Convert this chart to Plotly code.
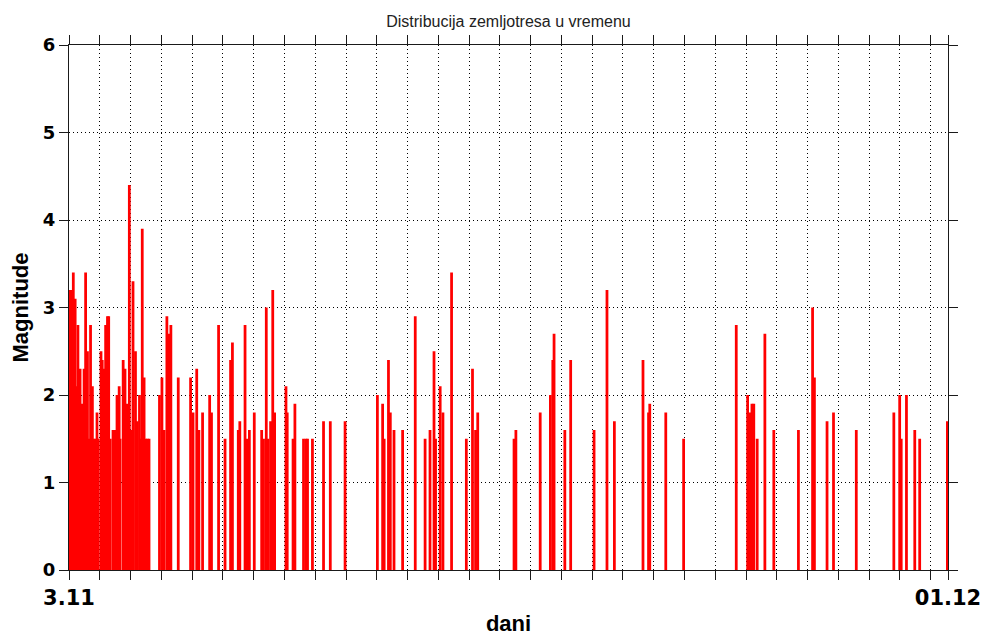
import plotly.graph_objects as go

# Event times (days after 3.11, 00:00) and magnitudes
days = [
    0.02, 0.08, 0.14, 0.20, 0.23, 0.29, 0.36, 0.42, 0.49, 0.54, 0.60, 0.65, 0.70, 0.76,
    0.81, 0.87, 0.91, 0.95, 1.04, 1.08, 1.13, 1.19, 1.25, 1.29, 1.34, 1.43, 1.49, 1.56,
    1.63, 1.66, 1.76, 1.82, 1.88, 1.91, 1.96, 2.01, 2.08, 2.16, 2.22, 2.29, 2.33, 2.38,
    2.44, 2.49, 2.55, 2.60, 2.94, 3.02, 3.09, 3.18, 3.24, 3.31, 3.55, 3.95, 4.03, 4.15,
    4.22, 4.34, 4.57, 4.63, 4.86, 5.07, 5.25, 5.31, 5.50, 5.55, 5.72, 5.78, 5.86, 6.02,
    6.26, 6.32, 6.41, 6.47, 6.55, 6.62, 6.68, 7.05, 7.09, 7.28, 7.34, 7.62, 7.70, 7.75,
    7.91, 8.27, 8.49, 8.97, 10.02, 10.19, 10.24, 10.38, 10.44, 10.56, 10.84, 11.25,
    11.57, 11.73, 11.86, 11.91, 12.06, 12.15, 12.43, 12.91, 13.11, 13.21, 13.28, 14.46,
    14.52, 15.31, 15.64, 15.72, 15.76, 16.11, 16.30, 17.06, 17.48, 17.72, 18.65, 18.83,
    18.87, 19.39, 19.97, 21.68, 22.05, 22.12, 22.19, 22.25, 22.36, 22.61, 22.90, 23.70,
    24.16, 24.22, 24.63, 24.84, 25.58, 26.80, 26.99, 27.04, 27.21, 27.48, 27.64, 28.54,
]
magnitude = [
    3.2, 3.2, 3.4, 3.1, 2.1, 2.8, 2.3, 1.9, 2.3, 3.4, 2.5, 1.5, 2.8, 2.1,
    1.5, 1.5, 1.8, 1.5, 2.5, 2.4, 2.3, 2.8, 2.9, 2.9, 1.5, 1.6, 1.6, 2.0,
    2.1, 1.5, 2.4, 2.3, 1.9, 1.5, 4.4, 1.6, 3.3, 2.5, 1.7, 2.0, 1.5, 3.9,
    2.2, 1.5, 1.5, 1.5, 2.0, 2.2, 1.6, 2.9, 2.7, 2.8, 2.2, 2.2, 1.8, 2.3,
    1.6, 1.8, 2.0, 1.8, 2.8, 1.5, 2.4, 2.6, 1.6, 1.7, 2.8, 1.5, 1.6, 1.8,
    1.6, 1.5, 3.0, 1.5, 1.7, 3.2, 1.8, 2.1, 1.8, 1.5, 1.9, 1.5, 1.5, 1.5,
    1.5, 1.7, 1.7, 1.7, 2.0, 1.9, 1.5, 2.4, 1.8, 1.6, 1.6, 2.9,
    1.5, 1.6, 2.5, 1.5, 2.1, 1.8, 3.4, 1.5, 2.3, 1.6, 1.8, 1.5,
    1.6, 1.8, 2.0, 2.4, 2.7, 1.6, 2.4, 1.6, 3.2, 1.7, 2.4, 1.8,
    1.9, 1.8, 1.5, 2.8, 2.0, 1.8, 1.9, 1.9, 1.5, 2.7, 1.6, 1.6,
    3.0, 2.2, 1.7, 1.8, 1.6, 1.8, 2.0, 1.5, 2.0, 1.6, 1.5, 1.7,
]

x_end = 28.56
day_ticks = list(range(0, 29)) + [x_end]
day_labels = ["3.11"] + [""] * 28 + ["01.12"]
y_ticks = [0, 1, 2, 3, 4, 5, 6]

fig = go.Figure(
    go.Bar(
        x=days,
        y=magnitude,
        width=0.09,
        marker=dict(color="#ff0000", line=dict(width=0)),
        hoverinfo="x+y",
    )
)

axis_common = dict(
    showline=True,
    linecolor="#1a1a1a",
    linewidth=1,
    mirror="ticks",
    ticks="outside",
    ticklen=9,
    tickcolor="#1a1a1a",
    showgrid=True,
    gridcolor="#000000",
    gridwidth=1,
    griddash="1px,3px",
    zeroline=False,
    automargin=False,
)

fig.update_layout(
    width=985,
    height=637,
    margin=dict(l=69, r=37, t=45, b=67),
    paper_bgcolor="white",
    plot_bgcolor="white",
    showlegend=False,
    title=dict(
        text="Distribucija zemljotresa u vremenu",
        font=dict(family="Liberation Sans", size=16, color="#222222"),
        x=0.5,
        xref="paper",
        xanchor="center",
        y=1 - 21 / 637,
        yref="container",
        yanchor="middle",
    ),
    xaxis=dict(
        range=[0, x_end],
        tickmode="array",
        tickvals=day_ticks,
        ticktext=day_labels,
        tickfont=dict(family="DejaVu Sans", size=21, color="#000000", weight="bold"),
        title=dict(
            text="dani",
            font=dict(family="Liberation Sans", size=22, color="#000000", weight="bold"),
            standoff=6,
        ),
        **axis_common,
    ),
    yaxis=dict(
        range=[0, 6],
        tickmode="array",
        tickvals=y_ticks,
        ticktext=[str(v) for v in y_ticks],
        tickfont=dict(family="DejaVu Sans", size=18, color="#000000", weight="bold"),
        title=dict(
            text="Magnitude",
            font=dict(family="Liberation Sans", size=22, color="#000000", weight="bold"),
            standoff=8,
        ),
        **axis_common,
    ),
)

fig.write_html("out.html")
